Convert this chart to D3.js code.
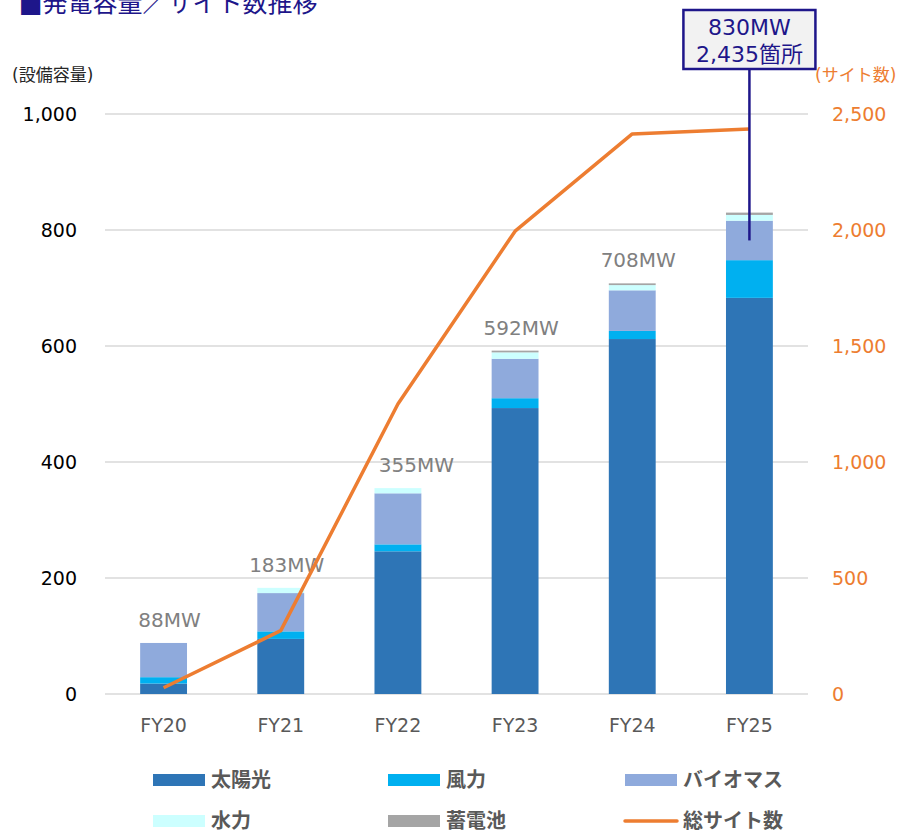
<!DOCTYPE html>
<html>
<head>
<meta charset="utf-8">
<script src="https://cdn.jsdelivr.net/npm/d3@7"></script>
<style>
  body { margin: 0; background: #fff; }
  svg { display: block; font-family: "DejaVu Sans", "Noto Sans CJK JP", sans-serif; }
</style>
</head>
<body>
<svg id="chart" width="902" height="833"></svg>
<script>
// data
const years = ['FY20', 'FY21', 'FY22', 'FY23', 'FY24', 'FY25'];
const solar   = [18, 95, 246, 493, 612, 683];
const wind    = [11, 13, 12, 17, 14, 65];
const biomass = [59, 66, 88, 68, 70, 68];
const hydro   = [0, 9, 9, 11, 9, 10];
const battery = [0, 0, 0, 3, 3, 4];
const totalMW = [88, 183, 355, 592, 708, 830];
const sites   = [27, 273, 1250, 1995, 2414, 2435];
const leftTicks  = [0, 200, 400, 600, 800, 1000];
const rightTicks = [0, 500, 1000, 1500, 2000, 2500];

const seriesKeys   = ['solar', 'wind', 'biomass', 'hydro', 'battery'];
const seriesNames  = ['太陽光', '風力', 'バイオマス', '水力', '蓄電池'];
const seriesColors = ['#2E75B6', '#00B0F0', '#8FAADC', '#CCFFFF', '#A5A5A5'];
const lineName = '総サイト数';
const lineColor = '#ED7D31';
const navy = '#1E168A';

const rows = years.map((y, i) => ({
  year: y, solar: solar[i], wind: wind[i], biomass: biomass[i],
  hydro: hydro[i], battery: battery[i], total: totalMW[i], sites: sites[i]
}));

const svg = d3.select('#chart');
const plot = {left: 105, right: 808, top: 114, bottom: 694};

const x = d3.scaleBand()
  .domain(years)
  .range([plot.left, plot.right])
  .paddingInner(0.6)
  .paddingOuter(0.3);

const y = d3.scaleLinear().domain([0, 1000]).range([plot.bottom, plot.top]);
const y2 = d3.scaleLinear().domain([0, 2500]).range([plot.bottom, plot.top]);
const color = d3.scaleOrdinal().domain(seriesKeys).range(seriesColors);
const mid = d => x(d.year) + x.bandwidth() / 2;

// title (clipped at top like the original)
svg.append('text')
  .attr('x', 19).attr('y', 12)
  .attr('font-size', 25)
  .attr('fill', navy)
  .text('■発電容量／サイト数推移');

// axis captions
svg.append('text')
  .attr('x', 12).attr('y', 81)
  .attr('font-size', 17)
  .attr('fill', '#262626')
  .text('(設備容量)');

svg.append('text')
  .attr('x', 815).attr('y', 81)
  .attr('font-size', 17)
  .attr('fill', lineColor)
  .text('(サイト数)');

// gridlines
svg.append('g')
  .selectAll('line')
  .data(leftTicks)
  .join('line')
    .attr('x1', plot.left).attr('x2', plot.right)
    .attr('y1', d => y(d)).attr('y2', d => y(d))
    .attr('stroke', '#D9D9D9')
    .attr('stroke-width', 1.5);

// left axis
const leftAxis = svg.append('g')
  .attr('transform', 'translate(' + (plot.left + 8) + ',0)')
  .call(d3.axisLeft(y).tickValues(leftTicks).tickSize(0).tickPadding(36).tickFormat(d3.format(',')));
leftAxis.select('.domain').remove();
leftAxis.selectAll('text')
  .attr('font-size', 19)
  .attr('font-family', 'DejaVu Sans')
  .attr('fill', '#000');

// right axis
const rightAxis = svg.append('g')
  .attr('transform', 'translate(' + plot.right + ',0)')
  .call(d3.axisRight(y2).tickValues(rightTicks).tickSize(0).tickPadding(24).tickFormat(d3.format(',')));
rightAxis.select('.domain').remove();
rightAxis.selectAll('text')
  .attr('font-size', 19)
  .attr('font-family', 'DejaVu Sans')
  .attr('fill', lineColor);

// x axis labels
const bottomAxis = svg.append('g')
  .attr('transform', 'translate(0,' + plot.bottom + ')')
  .call(d3.axisBottom(x).tickSize(0).tickPadding(25));
bottomAxis.select('.domain').remove();
bottomAxis.selectAll('text')
  .attr('font-size', 19)
  .attr('font-family', 'DejaVu Sans')
  .attr('fill', '#595959');

// stacked bars
const stacked = d3.stack().keys(seriesKeys)(rows);

svg.append('g')
  .selectAll('g')
  .data(stacked)
  .join('g')
    .attr('fill', d => color(d.key))
  .selectAll('rect')
  .data(d => d)
  .join('rect')
    .attr('x', d => x(d.data.year))
    .attr('width', x.bandwidth())
    .attr('y', d => y(d[1]))
    .attr('height', d => y(d[0]) - y(d[1]));

// total labels (last one goes in the callout)
// nudge a label right if the incoming line segment runs through it
function labelX(d, i) {
  const cx = mid(d) + 6;
  const ly = y(d.total) - 23;
  if (i === 0) return cx;
  const p = rows[i - 1];
  const ya = y2(p.sites), yb = y2(d.sites);
  if (ly > ya || ly < yb) return cx;
  const t = (ya - ly) / (ya - yb);
  const lx = mid(p) + t * (mid(d) - mid(p));
  const halfW = 40;
  return Math.max(cx, lx + 10 + halfW);
}

svg.append('g')
  .selectAll('text')
  .data(rows.slice(0, -1))
  .join('text')
    .attr('x', labelX)
    .attr('y', d => y(d.total) - 16)
    .attr('text-anchor', 'middle')
    .attr('font-size', 20)
    .attr('fill', '#808080')
    .text(d => d.total + 'MW');

// site count line
const line = d3.line()
  .x(mid)
  .y(d => y2(d.sites));

svg.append('path')
  .datum(rows)
  .attr('d', line)
  .attr('fill', 'none')
  .attr('stroke', lineColor)
  .attr('stroke-width', 3.5)
  .attr('stroke-linejoin', 'round');

// callout for the last year
const last = rows[rows.length - 1];
const cx = mid(last);
const anchorVal = last.solar + last.wind + last.biomass / 2;
const box = {w: 132, h: 59, top: 10};

svg.append('line')
  .attr('x1', cx).attr('x2', cx)
  .attr('y1', box.top + box.h)
  .attr('y2', y(anchorVal))
  .attr('stroke', navy)
  .attr('stroke-width', 2.5);

svg.append('rect')
  .attr('x', cx - box.w / 2)
  .attr('y', box.top)
  .attr('width', box.w)
  .attr('height', box.h)
  .attr('fill', '#F2F2F2')
  .attr('stroke', navy)
  .attr('stroke-width', 2.5);

svg.append('text')
  .attr('x', cx).attr('y', box.top + 25)
  .attr('text-anchor', 'middle')
  .attr('font-size', 22)
  .attr('fill', navy)
  .text(last.total + 'MW');

svg.append('text')
  .attr('x', cx).attr('y', box.top + 52)
  .attr('text-anchor', 'middle')
  .attr('font-size', 22)
  .attr('fill', navy)
  .text(d3.format(',')(last.sites) + '箇所');

// legend
const legendItems = seriesKeys.map((k, i) => ({name: seriesNames[i], color: seriesColors[i], type: 'rect'}));
legendItems.push({name: lineName, color: lineColor, type: 'line'});

const legendCols = [153, 388, 625];
const legendRows = [780, 821];

const legend = svg.append('g')
  .selectAll('g')
  .data(legendItems)
  .join('g')
    .attr('transform', (d, i) => 'translate(' + legendCols[i % 3] + ',' + legendRows[Math.floor(i / 3)] + ')');

legend.filter(d => d.type === 'rect')
  .append('rect')
    .attr('x', 0).attr('y', -6)
    .attr('width', 52).attr('height', 12)
    .attr('fill', d => d.color);

legend.filter(d => d.type === 'line')
  .append('line')
    .attr('x1', 0).attr('x2', 52)
    .attr('y1', 0).attr('y2', 0)
    .attr('stroke', d => d.color)
    .attr('stroke-width', 3.5)
    .attr('stroke-linecap', 'round');

legend.append('text')
  .attr('x', 58)
  .attr('y', 0)
  .attr('dy', '0.36em')
  .attr('font-size', 20)
  .attr('font-weight', 'bold')
  .attr('fill', '#595959')
  .text(d => d.name);
</script>
</body>
</html>
